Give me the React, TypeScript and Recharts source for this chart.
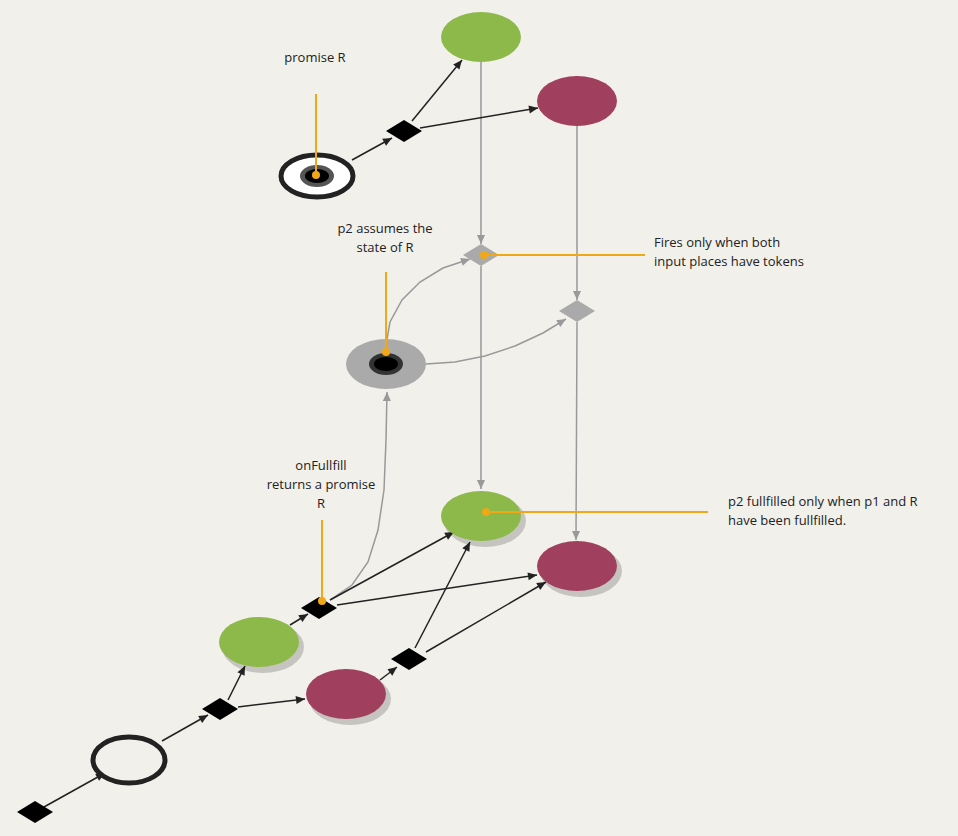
import React from 'react';
import { ScatterChart, Scatter, XAxis, YAxis } from 'recharts';

const W = 958;
const H = 836;

// node kinds: green, maroon, diamond, grayDiamond, promiseRing, p2Ring, emptyRing
const greenNodes = [{ x: 481, y: 37, shadow: false }, { x: 481, y: 516, shadow: true }, { x: 259, y: 642, shadow: true }];
const maroonNodes = [{ x: 577, y: 101, shadow: false }, { x: 577, y: 566, shadow: true }, { x: 346, y: 694, shadow: true }];
const blackDiamonds = [{ x: 404, y: 131 }, { x: 319, y: 608 }, { x: 220, y: 709 }, { x: 409, y: 659 }, { x: 35, y: 812 }];
const grayDiamonds = [{ x: 481, y: 255 }, { x: 577, y: 311 }];
const rings = [
  { x: 317, y: 176, kind: 'promise' },
  { x: 386, y: 364, kind: 'p2' },
  { x: 129, y: 760, kind: 'empty' },
];

const blackEdges = [
  [[35, 812], [105, 773]],
  [[162, 741], [208, 715]],
  [[228, 700], [245, 666]],
  [[238, 707], [305, 699]],
  [[290, 625], [308, 614]],
  [[330, 600], [454, 532]],
  [[337, 605], [537, 575]],
  [[415, 648], [470, 542]],
  [[426, 652], [546, 582]],
  [[380, 680], [397, 667]],
  [[352, 160], [392, 138]],
  [[412, 121], [462, 60]],
  [[420, 128], [538, 108]],
];

const grayEdges = [
  [[481, 62], [481, 244]],
  [[577, 126], [577, 300]],
  [[481, 266], [481, 489]],
  [[577, 322], [576, 540]],
  [[386, 345], [390, 322], [402, 300], [420, 282], [443, 268], [470, 259]],
  [[426, 364], [455, 362], [485, 356], [515, 346], [543, 333], [566, 319]],
  [[330, 600], [352, 585], [368, 562], [378, 530], [384, 490], [386, 440], [387, 392]],
];

const orangeLines = [
  [[316, 94], [316, 175]],
  [[386, 272], [386, 352]],
  [[322, 520], [322, 601]],
  [[645, 255], [484, 255]],
  [[708, 512], [486, 512]],
];

const labels = [
  { x: 315, y: 62, text: 'promise R', anchor: 'middle' },
  { x: 385, y: 233, text: 'p2 assumes the', anchor: 'middle' },
  { x: 385, y: 252, text: 'state of R', anchor: 'middle' },
  { x: 321, y: 470, text: 'onFullfill', anchor: 'middle' },
  { x: 321, y: 489, text: 'returns a promise', anchor: 'middle' },
  { x: 321, y: 508, text: 'R', anchor: 'middle' },
  { x: 654, y: 247, text: 'Fires only when both', anchor: 'start' },
  { x: 654, y: 266, text: 'input places have tokens', anchor: 'start' },
  { x: 728, y: 506, text: 'p2 fullfilled only when p1 and R', anchor: 'start' },
  { x: 728, y: 525, text: 'have been fullfilled.', anchor: 'start' },
];

const toPts = (pts: number[][]) =>
  pts.map(([x, y], i) => {
    const last = i === pts.length - 1;
    const prev = pts[Math.max(0, i - 1)];
    return { x, y, head: last, ang: (Math.atan2(y - prev[1], x - prev[0]) * 180) / Math.PI };
  });

const Arrow = (color: string) => (p: any) => {
  if (!p.payload?.head) return <g />;
  return (
    <path
      d="M0,0 L-9,-4 L-9,4 Z"
      fill={color}
      transform={`translate(${p.cx},${p.cy}) rotate(${p.payload.ang})`}
    />
  );
};

const OrangeDot = (p: any) => (p.payload?.head ? <circle cx={p.cx} cy={p.cy} r={4} fill="#f0a818" /> : <g />);

const Ellipse = (color: string) => (p: any) => (
  <g>
    {p.payload.shadow && <ellipse cx={p.cx + 4} cy={p.cy + 5} rx={41} ry={26} fill="rgba(0,0,0,0.18)" />}
    <ellipse cx={p.cx} cy={p.cy} rx={40} ry={25} fill={color} />
  </g>
);

const Diamond = (color: string) => (p: any) => (
  <path d={`M${p.cx - 18},${p.cy} L${p.cx},${p.cy - 11} L${p.cx + 18},${p.cy} L${p.cx},${p.cy + 11} Z`} fill={color} />
);

const Ring = (p: any) => {
  const { cx, cy } = p;
  const k = p.payload.kind;
  if (k === 'promise')
    return (
      <g>
        <ellipse cx={cx} cy={cy} rx={36} ry={21} fill="#fff" stroke="#222" strokeWidth={5} />
        <ellipse cx={cx} cy={cy} rx={17} ry={11} fill="#555" />
        <ellipse cx={cx} cy={cy} rx={12} ry={7} fill="#000" />
      </g>
    );
  if (k === 'p2')
    return (
      <g>
        <ellipse cx={cx} cy={cy} rx={40} ry={25} fill="#aaaaaa" />
        <ellipse cx={cx} cy={cy} rx={17} ry={11} fill="#333" />
        <ellipse cx={cx} cy={cy} rx={12} ry={7} fill="#000" />
      </g>
    );
  return <ellipse cx={cx} cy={cy} rx={36} ry={23} fill="#f2f0eb" stroke="#222" strokeWidth={5} />;
};

const Label = (p: any) => (
  <text x={p.cx} y={p.cy} textAnchor={p.payload.anchor} fontSize={13} fill="#222" fontFamily="'Open Sans', sans-serif">
    {p.payload.text}
  </text>
);

export default function App() {
  return (
    <div style={{ position: 'absolute', left: 0, top: 0, width: W, height: H, background: '#f2f0eb' }}>
      <ScatterChart width={W} height={H} margin={{ top: 0, right: 0, bottom: 0, left: 0 }}>
        <XAxis type="number" dataKey="x" domain={[0, W]} hide />
        <YAxis type="number" dataKey="y" domain={[0, H]} reversed hide />
        {grayEdges.map((e, i) => (
          <Scatter key={'g' + i} data={toPts(e)} line={{ stroke: '#999', strokeWidth: 1.5 }} lineType="joint" shape={Arrow('#999')} isAnimationActive={false} />
        ))}
        {blackEdges.map((e, i) => (
          <Scatter key={'b' + i} data={toPts(e)} line={{ stroke: '#222', strokeWidth: 1.5 }} lineType="joint" shape={Arrow('#222')} isAnimationActive={false} />
        ))}
        <Scatter data={greenNodes} shape={Ellipse('#8db84a')} isAnimationActive={false} />
        <Scatter data={maroonNodes} shape={Ellipse('#a0405e')} isAnimationActive={false} />
        <Scatter data={blackDiamonds} shape={Diamond('#000')} isAnimationActive={false} />
        <Scatter data={grayDiamonds} shape={Diamond('#aaaaaa')} isAnimationActive={false} />
        <Scatter data={rings} shape={Ring} isAnimationActive={false} />
        {orangeLines.map((e, i) => (
          <Scatter key={'o' + i} data={toPts(e)} line={{ stroke: '#f0a818', strokeWidth: 2 }} lineType="joint" shape={OrangeDot} isAnimationActive={false} />
        ))}
        <Scatter data={labels} shape={Label} isAnimationActive={false} />
      </ScatterChart>
    </div>
  );
}
